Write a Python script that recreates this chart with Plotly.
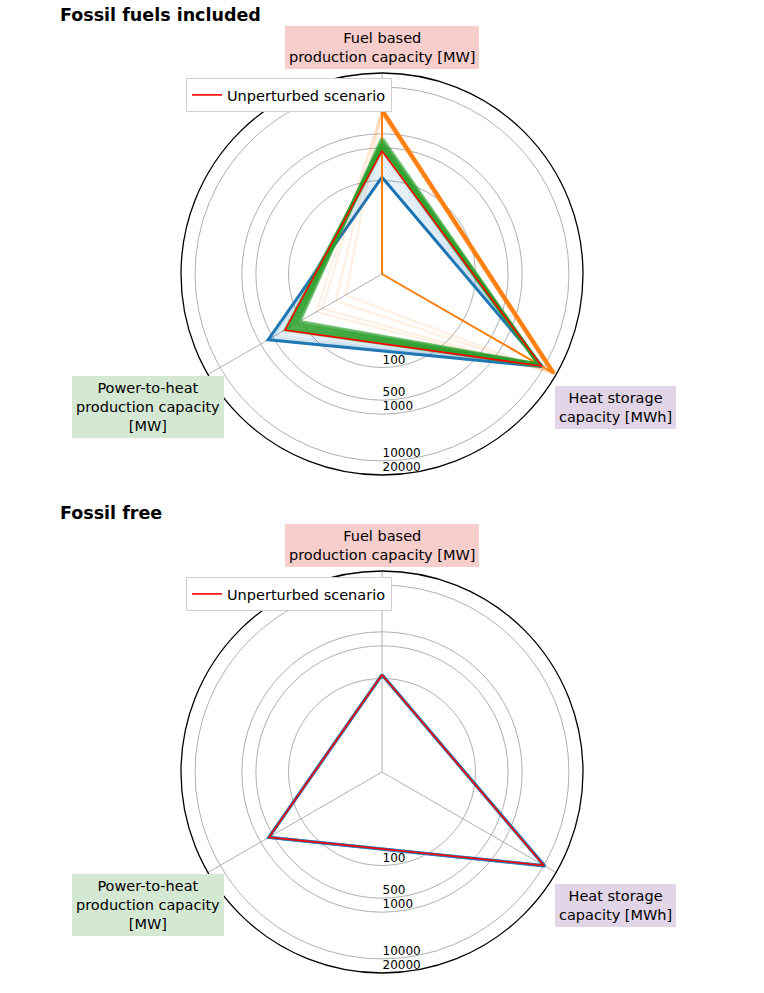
import math
import plotly.graph_objects as go

# axis order around the radar (clockwise from top)
categories = ["Fuel based", "Heat storage", "Power-to-heat"]
axis_labels = ["Fuel based<br>production capacity [MW]",
               "Heat storage<br>capacity [MWh]",
               "Power-to-heat<br>production capacity<br>[MW]"]
axis_colors = ["#f8cecc", "#e1d5e7", "#d5e8d4"]

# radial ticks (log scale)
r_ticks = [100, 500, 1000, 10000, 20000]
r_max = 20000

# --- Fossil fuels included: [fuel MW, heat storage MWh, power-to-heat MW] ---
unperturbed_incl = [430, 8700, 250]

blue_incl = [[118, 9300, 650],
             [150, 9200, 600], [190, 9100, 540], [240, 9000, 470],
             [300, 8900, 400], [360, 8800, 320]]

orange_incl = [[3400, 18000, 1],
               [3300, 17500, 14], [3100, 17000, 42],
               [3000, 16500, 30], [3200, 17800, 8]]

green_incl = [[470, 8000, 240], [520, 7900, 200], [580, 7800, 170],
              [650, 7700, 140], [720, 7600, 120], [800, 7500, 110],
              [500, 8100, 220], [600, 7800, 150]]

# --- Fossil free ---
unperturbed_free = [120, 10000, 620]
blue_free = [[120, 10800, 630], [120, 10400, 625], [120, 10000, 620]]

BLUE = "#1f77b4"
ORANGE = "#ff7f0e"
GREEN = "#2ca02c"

fig = go.Figure()


def closed(vals):
    return list(vals) + [vals[0]], categories + [categories[0]]


def add_set(sets, color, subplot, op, w):
    for vals in sets:
        r, th = closed(vals)
        fig.add_trace(go.Scatterpolar(r=r, theta=th, mode="lines", opacity=op,
                                      line=dict(color=color, width=w),
                                      subplot=subplot, showlegend=False,
                                      hoverinfo="skip"))


# top chart
add_set(blue_incl[1:], BLUE, "polar", 0.15, 2)
add_set(blue_incl[:1], BLUE, "polar", 1.0, 3)
add_set(orange_incl[1:], ORANGE, "polar", 0.12, 2)
add_set(orange_incl[:1], ORANGE, "polar", 1.0, 2)
# the bright upper-right orange edge
for vals in orange_incl[1:]:
    r, th = closed(vals)
    fig.add_trace(go.Scatterpolar(r=r[:2], theta=th[:2], mode="lines", opacity=0.5,
                                  subplot="polar", line=dict(color=ORANGE, width=4),
                                  showlegend=False, hoverinfo="skip"))
add_set(green_incl, GREEN, "polar", 0.5, 4)
r, th = closed(unperturbed_incl)
fig.add_trace(go.Scatterpolar(r=r, theta=th, mode="lines", subplot="polar",
                              line=dict(color="red", width=1.6),
                              name="Unperturbed scenario", legend="legend"))

# bottom chart
add_set(blue_free, BLUE, "polar2", 0.7, 3)
r, th = closed(unperturbed_free)
fig.add_trace(go.Scatterpolar(r=r, theta=th, mode="lines", subplot="polar2",
                              line=dict(color="red", width=1.6),
                              name="Unperturbed scenario", legend="legend2"))

W, H = 764, 993
R = 201
centres = [274, 772]

polar_style = dict(
    bgcolor="white",
    radialaxis=dict(type="log", range=[0, math.log10(r_max)], tickvals=r_ticks,
                    # empty second line lifts each label just above its circle
                    ticktext=["%d<br> " % t for t in r_ticks], angle=270,
                    tickangle=-90, side="counterclockwise",
                    showline=False, ticks="", gridcolor="#b0b0b0", gridwidth=1,
                    tickfont=dict(family="DejaVu Sans", size=12, color="black")),
    angularaxis=dict(type="category", rotation=90, direction="clockwise",
                     showticklabels=False, ticks="", showline=True,
                     linecolor="black", linewidth=1.3, gridcolor="#b0b0b0",
                     gridwidth=1),
)

layout = dict(width=W, height=H, margin=dict(l=0, r=0, t=0, b=0),
              paper_bgcolor="white", plot_bgcolor="white",
              font=dict(family="DejaVu Sans", size=14, color="black"))
for name, cy in zip(["polar", "polar2"], centres):
    layout[name] = dict(polar_style,
                        domain=dict(x=[(382 - R) / W, (382 + R) / W],
                                    y=[1 - (cy + R) / H, 1 - (cy - R) / H]))

legend_style = dict(xanchor="left", yanchor="top", bgcolor="white",
                    bordercolor="#d0d0d0", borderwidth=1,
                    font=dict(family="DejaVu Sans", size=14.5))
layout["legend"] = dict(legend_style, x=186 / W, y=1 - 78 / H)
layout["legend2"] = dict(legend_style, x=186 / W, y=1 - 577 / H)
fig.update_layout(**layout)

titles = ["Fossil fuels included", "Fossil free"]
label_pos = [(382, -227), (615, 133.5), (148, 133)]  # offsets from centre
for title, cy in zip(titles, centres):
    fig.add_annotation(text="<b>%s</b>" % title, x=58 / W, y=1 - (cy - 259) / H,
                       xref="paper", yref="paper", xanchor="left", yanchor="middle",
                       showarrow=False, font=dict(size=17.5, family="DejaVu Sans"))
    for lab, col, (lx, dy) in zip(axis_labels, axis_colors, label_pos):
        fig.add_annotation(text=lab, x=lx / W, y=1 - (cy + dy) / H,
                           xref="paper", yref="paper", xanchor="center",
                           yanchor="middle", showarrow=False, bgcolor=col,
                           bordercolor=col, borderpad=3,
                           font=dict(size=14.5, family="DejaVu Sans"))

# page body has a default margin; remove it so the figure sits at (0, 0)
fig.write_html("out.html", config={"displayModeBar": False},
               post_script="document.body.style.margin='0';")
